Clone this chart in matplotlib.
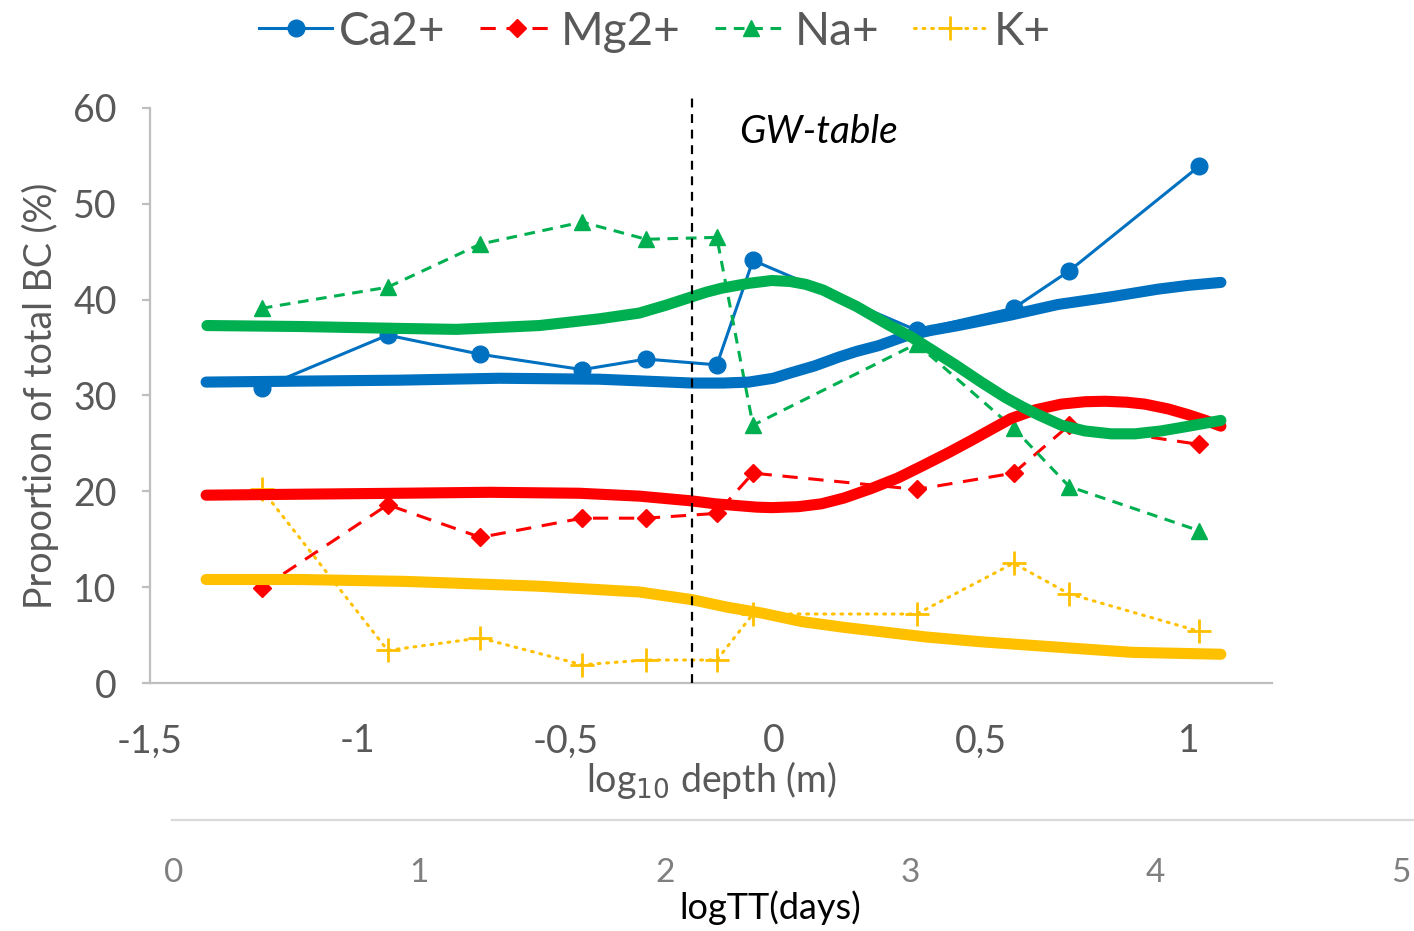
import matplotlib
matplotlib.use("Agg")
import matplotlib.pyplot as plt
from matplotlib.lines import Line2D

plt.rcParams['font.family'] = ['Lato', 'DejaVu Sans']

# Sampling depths (log10 m)
depth = [-1.231, -0.928, -0.705, -0.460, -0.306, -0.136, -0.049, 0.345, 0.578, 0.712, 1.024]

# Proportion of total base cations (%)
ca = [30.8, 36.3, 34.3, 32.7, 33.8, 33.2, 44.1, 36.8, 39.1, 43.0, 53.9]
mg = [9.9, 18.6, 15.2, 17.2, 17.2, 17.7, 21.9, 20.2, 21.9, 26.9, 24.9]
na = [39.1, 41.3, 45.8, 48.1, 46.3, 46.5, 26.9, 35.4, 26.6, 20.5, 15.9]
k = [20.2, 3.4, 4.7, 1.9, 2.4, 2.4, 7.2, 7.2, 12.5, 9.3, 5.4]

# Smoothed trends
ca_fit_x = [-1.365, -1.140, -0.899, -0.659, -0.419, -0.196, -0.120, -0.059, 0.000, 0.037, 0.100,
            0.157, 0.200, 0.253, 0.318, 0.380, 0.445, 0.572, 0.685, 0.813, 0.926, 1.000, 1.077]
ca_fit_y = [31.4, 31.5, 31.6, 31.8, 31.7, 31.3, 31.3, 31.4, 31.8, 32.3, 33.1,
            34.0, 34.6, 35.2, 36.2, 36.8, 37.3, 38.4, 39.5, 40.3, 41.1, 41.5, 41.8]

na_fit_x = [-1.363, -1.140, -0.899, -0.763, -0.563, -0.419, -0.323, -0.260, -0.196, -0.160, -0.124,
            -0.060, -0.004, 0.040, 0.078, 0.120, 0.157, 0.200, 0.236, 0.280, 0.332, 0.380, 0.438,
            0.500, 0.558, 0.600, 0.637, 0.693, 0.750, 0.813, 0.870, 0.933, 1.000, 1.077]
na_fit_y = [37.3, 37.2, 37.0, 36.9, 37.3, 38.0, 38.6, 39.4, 40.3, 40.8, 41.2,
            41.7, 42.0, 41.9, 41.6, 41.0, 40.2, 39.3, 38.4, 37.3, 36.1, 34.8, 33.2,
            31.4, 29.8, 28.8, 28.0, 26.9, 26.3, 26.0, 26.0, 26.3, 26.8, 27.4]

mg_fit_x = [-1.365, -1.140, -0.899, -0.683, -0.467, -0.323, -0.196, -0.140, -0.083, -0.040, -0.004,
            0.060, 0.116, 0.170, 0.236, 0.300, 0.356, 0.420, 0.476, 0.530, 0.572, 0.630, 0.693,
            0.750, 0.798, 0.850, 0.894, 0.950, 0.998, 1.040, 1.077]
mg_fit_y = [19.6, 19.7, 19.8, 19.9, 19.8, 19.5, 19.0, 18.7, 18.5, 18.35, 18.3,
            18.4, 18.7, 19.3, 20.3, 21.4, 22.6, 24.0, 25.3, 26.6, 27.6, 28.5, 29.1,
            29.35, 29.4, 29.3, 29.1, 28.6, 28.0, 27.4, 26.8]

k_fit_x = [-1.365, -1.140, -0.883, -0.563, -0.323, -0.260, -0.196, -0.110, -0.028, 0.070, 0.171,
           0.270, 0.368, 0.500, 0.664, 0.863, 1.077]
k_fit_y = [10.8, 10.8, 10.6, 10.1, 9.5, 9.1, 8.7, 7.9, 7.3, 6.4, 5.8,
           5.3, 4.8, 4.3, 3.8, 3.2, 3.0]

x_ticks = [-1.5, -1.0, -0.5, 0.0, 0.5, 1.0]
x_ticklabels = ["-1,5", "-1", "-0,5", "0", "0,5", "1"]
y_ticks = [0, 10, 20, 30, 40, 50, 60]
tt_ticks = [0, 1, 2, 3, 4, 5]
gw_table_depth = -0.195

BLUE = "#0070C0"
RED = "#FF0000"
GREEN = "#00B050"
GOLD = "#FFC000"
GREY_TXT = "#595959"
GREY_AX = "#BFBFBF"

W, H = 1414, 931
fig = plt.figure(figsize=(W / 100, H / 100), dpi=100)
ax = fig.add_axes([150 / W, (H - 683) / H, (1272 - 150) / W, (683 - 108) / H])

# Measured series
ca_style = dict(color=BLUE, lw=2.2, marker='o', ms=12)
mg_style = dict(color=RED, lw=2.2, ls=(0, (5, 3.5)), marker='D', ms=9)
na_style = dict(color=GREEN, lw=2.2, ls=(0, (3.5, 2.5)), marker='^', ms=12)
k_style = dict(color=GOLD, lw=2.2, ls=(0, (0.6, 2.2)), dash_capstyle='round',
               marker='+', ms=17, mew=2)
ax.plot(depth, ca, zorder=3, **ca_style)
ax.plot(depth, mg, zorder=3, **mg_style)
ax.plot(depth, na, zorder=3, **na_style)
ax.plot(depth, k, zorder=3, **k_style)

# Trend curves
for fx, fy, c in [(k_fit_x, k_fit_y, GOLD), (mg_fit_x, mg_fit_y, RED),
                  (ca_fit_x, ca_fit_y, BLUE), (na_fit_x, na_fit_y, GREEN)]:
    ax.plot(fx, fy, color=c, lw=8, solid_capstyle='round', solid_joinstyle='round', zorder=4)

# Groundwater table
ax.plot([gw_table_depth, gw_table_depth], [0, 61.4], color='black', lw=1.6,
        ls=(0, (4, 3)), clip_on=False, zorder=5)
ax.text(-0.083, 57.5, "GW-table", fontsize=28, style='italic', color='black',
        ha='left', va='center')

ax.set_xlim(-1.5, 1.2)
ax.set_ylim(0, 60)
ax.set_xticks(x_ticks)
ax.set_xticklabels(x_ticklabels)
ax.set_yticks(y_ticks)
for s in ['top', 'right']:
    ax.spines[s].set_visible(False)
for s in ['left', 'bottom']:
    ax.spines[s].set_color(GREY_AX)
    ax.spines[s].set_linewidth(1.6)
ax.tick_params(axis='y', length=6, width=1.6, color=GREY_AX, labelsize=27,
               labelcolor=GREY_TXT, pad=18)
ax.tick_params(axis='x', length=0, labelsize=27, labelcolor=GREY_TXT, pad=29)
ax.set_ylabel("Proportion of total BC (%)", fontsize=27, color=GREY_TXT, labelpad=10)
ax.set_xlabel("log$_{10}$ depth (m)", fontsize=27, color=GREY_TXT, labelpad=0)

# Secondary travel-time axis
ax2_left = 172
ax2 = fig.add_axes([ax2_left / W, (H - 820) / H, (W - ax2_left) / W, 0.0001])
ax2.set_xlim(-0.008, 5.053)
ax2.set_xticks(tt_ticks)
ax2.set_yticks([])
for s in ['top', 'right', 'left']:
    ax2.spines[s].set_visible(False)
ax2.spines['bottom'].set_color("#D9D9D9")
ax2.spines['bottom'].set_linewidth(1.6)
ax2.tick_params(axis='x', length=0, labelsize=24, labelcolor="#7F7F7F", pad=27)
ax2.set_xlabel("logTT(days)", fontsize=26, color='black', labelpad=2)
ax2.xaxis.label.set_x((770 - ax2_left) / (W - ax2_left))
ax2.patch.set_visible(False)

# Legend
handles = [Line2D([], [], **ca_style), Line2D([], [], **mg_style),
           Line2D([], [], **na_style), Line2D([], [], **k_style)]
fig.legend(handles, ["Ca2+", "Mg2+", "Na+", "K+"], loc='upper center',
           bbox_to_anchor=(655 / W, 1.033), ncol=4, frameon=False, fontsize=33,
           handlelength=1.6, handletextpad=0.15, columnspacing=0.75, labelcolor=GREY_TXT)

fig.savefig("out.png", dpi=100)
